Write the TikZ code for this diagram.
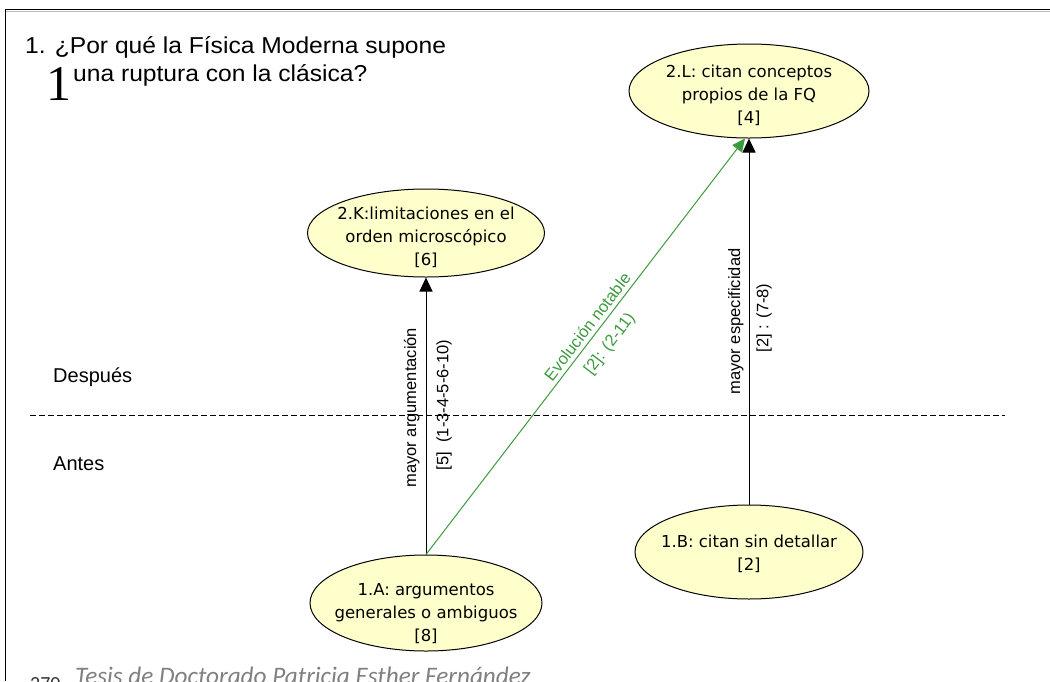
\documentclass[tikz,border=0pt]{standalone}
\usepackage{fontspec}
\setmainfont{Liberation Sans}
\newfontfamily\titlefont[FakeStretch=1.07]{Liberation Sans}
\newfontfamily\ellfont{DejaVu Sans}
\newfontfamily\serifone{Liberation Serif}
\newfontfamily\footfont{Carlito}
\usetikzlibrary{shapes.geometric,arrows.meta}
\definecolor{ellfill}{RGB}{255,255,204}
\definecolor{evgreen}{RGB}{60,155,60}
\definecolor{footgrey}{RGB}{128,128,128}
\begin{document}
\begin{tikzpicture}[x=1pt,y=-1pt,
  ell/.style={ellipse, draw=black, line width=1pt, fill=ellfill, inner sep=0pt},
  elltext/.style={font=\ellfont\fontsize{16.5}{23}\selectfont, align=center, text=black, inner sep=0pt},
  arr/.style={line width=1pt, -{Triangle[width=13pt,length=14pt]}},
  garr/.style={line width=1pt, draw=evgreen, -{Triangle[width=12pt,length=13pt]}},
  lbl/.style={font=\fontsize{16.5}{19}\selectfont, inner sep=0pt},
  glbl/.style={lbl, text=evgreen},
  plain/.style={anchor=base west, inner sep=0pt},
]
\useasboundingbox (0,0) rectangle (1050,681);
\fill[white] (0,0) rectangle (1050,681);
% frame
\draw[gray!55, line width=0.8pt] (5,11) -- (1050,11);
\draw[line width=1.3pt] (5,9.6) -- (1050,9.6);
\draw[line width=1.1pt] (5.5,9) -- (5.5,681);

% title
\node[plain, font=\titlefont\fontsize{23}{26}\selectfont] (t1) at (25,53) {1. ¿Por qué la Física Moderna supone};
\node[plain, font=\serifone\fontsize{50}{52}\selectfont] (big1) at (46.5,100) {1};
\node[plain, font=\titlefont\fontsize{23}{26}\selectfont] (t2) at (73,81) {una ruptura con la clásica?};

% period labels
\node[plain, font=\fontsize{20}{24}\selectfont] (desp) at (53,382) {Después};
\node[plain, font=\fontsize{20}{24}\selectfont] (antes) at (53,470) {Antes};
\coordinate (dl) at (30,415);
\coordinate (dr) at (1005,415);
\draw[line width=1pt, dash pattern=on 6pt off 3pt] (dl) -- (dr);

% ellipses
\node[ell, minimum width=240, minimum height=94,
  label={[elltext, yshift=-4pt]center:{2.L: citan conceptos\\propios de la FQ\\{[4]}}}] (L) at (749,91) {};
\node[ell, minimum width=237, minimum height=88,
  label={[elltext, yshift=-4pt]center:{2.K:limitaciones en el\\orden microscópico\\{[6]}}}] (K) at (426,233) {};
\node[ell, minimum width=232, minimum height=96,
  label={[elltext, yshift=-11pt]center:{1.A: argumentos\\generales o ambiguos\\{[8]}}}] (A) at (426,603) {};
\node[ell, minimum width=228, minimum height=94,
  label={[elltext, yshift=-2pt]center:{1.B: citan sin detallar\\{[2]}}}] (B) at (749,552) {};

% connectors
\draw[arr] (A.north) -- (K.south)
  node[lbl, pos=0.53, sloped, above=6pt] {mayor argumentación}
  node[lbl, pos=0.54, sloped, below=10pt] {[5]\ \ (1-3-4-5-6-10)};
\draw[arr] (B.north) -- (L.south)
  node[lbl, pos=0.50, sloped, above=5pt] {mayor especificidad}
  node[lbl, pos=0.51, sloped, below=7pt] {[2] : (7-8)};
\draw[garr] (A.north) -- ([xshift=-4pt]L.south)
  node[glbl, pos=0.532, sloped, above=4pt] {Evolución notable}
  node[glbl, pos=0.532, sloped, below=10pt] {[2]: (2-11)};

% footer
\node[plain, font=\footfont\fontsize{20}{22}\selectfont, text=black!80] (page) at (30,690) {270};
\node[plain, font=\footfont\itshape\fontsize{25.2}{28}\selectfont, text=footgrey] (foot) at (75,684) {Tesis de Doctorado Patricia Esther Fernández};
\end{tikzpicture}
\end{document}
